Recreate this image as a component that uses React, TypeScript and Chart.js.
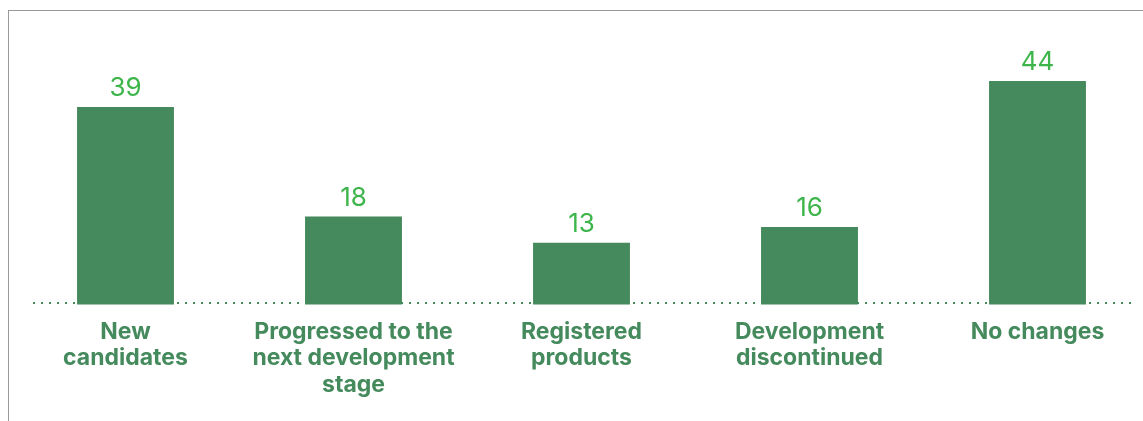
import React, { useEffect, useRef } from "react";
import { Chart, registerables } from "chart.js";

Chart.register(...registerables);

const categories: string[][] = [
  ["New", "candidates"],
  ["Progressed to the", "next development", "stage"],
  ["Registered", "products"],
  ["Development", "discontinued"],
  ["No changes"],
];
const values: number[] = [39, 18, 13, 16, 44];

const BAR = "#458a5c";
const VALUE_GREEN = "#3db54b";
const FONT = "Inter, 'Noto Sans', sans-serif";

const dottedBaseline = {
  id: "dottedBaseline",
  beforeDatasetsDraw(chart: any) {
    const { ctx, chartArea } = chart;
    ctx.save();
    ctx.strokeStyle = BAR;
    ctx.lineWidth = 2;
    ctx.setLineDash([2, 6]);
    const y = chartArea.bottom - 1.5;
    ctx.beginPath();
    ctx.moveTo(chartArea.left + 21.5, y);
    ctx.lineTo(chartArea.right - 20.5, y);
    ctx.stroke();
    ctx.restore();
  },
};

const valueLabels = {
  id: "valueLabels",
  afterDatasetsDraw(chart: any) {
    const { ctx } = chart;
    const meta = chart.getDatasetMeta(0);
    ctx.save();
    ctx.fillStyle = VALUE_GREEN;
    ctx.font = `400 26px ${FONT}`;
    ctx.textAlign = "center";
    ctx.textBaseline = "alphabetic";
    meta.data.forEach((el: any, i: number) => {
      ctx.fillText(String(values[i]), el.x, el.y - 11);
    });
    ctx.restore();
  },
};

export default function App() {
  const ref = useRef<HTMLCanvasElement | null>(null);
  useEffect(() => {
    if (!ref.current) return;
    const chart = new Chart(ref.current, {
      type: "bar",
      data: {
        labels: categories,
        datasets: [
          {
            data: values,
            backgroundColor: BAR,
            borderWidth: 0,
            barPercentage: 1,
            categoryPercentage: 0.425,
          },
        ],
      },
      options: {
        responsive: false,
        animation: false,
        devicePixelRatio: 1,
        layout: { padding: { left: 2.5, right: 2.5, top: 0, bottom: 9 } },
        plugins: { legend: { display: false }, tooltip: { enabled: false } },
        scales: {
          x: {
            grid: { display: false, drawTicks: false },
            border: { display: false },
            ticks: {
              color: BAR,
              padding: 14,
              font: { family: FONT, size: 23, weight: 700, lineHeight: "26.5px" },
              maxRotation: 0,
              autoSkip: false,
            },
          },
          y: {
            display: false,
            min: 1.15,
            max: 57.42,
          },
        },
      },
      plugins: [dottedBaseline, valueLabels],
    });
    return () => chart.destroy();
  }, []);
  return (
    <div
      style={{
        position: "fixed",
        left: 8,
        top: 10,
        width: 1135,
        height: 411,
        overflow: "hidden",
        borderTop: "1px solid #999",
        borderLeft: "1px solid #999",
        background: "#fff",
      }}
    >
      <canvas ref={ref} width={1145} height={410} style={{ display: "block" }} />
    </div>
  );
}
